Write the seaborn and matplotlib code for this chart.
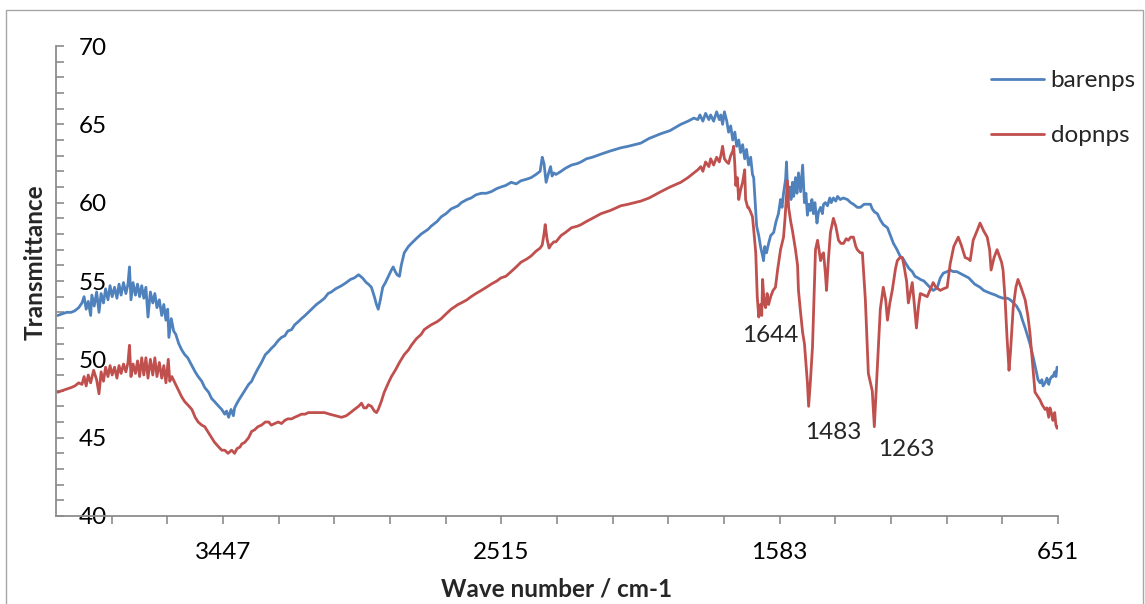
import numpy as np
import pandas as pd
import matplotlib
matplotlib.use("Agg")
import matplotlib.pyplot as plt
from matplotlib.patches import Rectangle
from matplotlib.ticker import FixedLocator, MultipleLocator
import seaborn as sns

# ---------------- data ----------------
bare_wn = [4000, 3986, 3970, 3955, 3943, 3930, 3919, 3912, 3905, 3898, 3890, 3886, 3878, 3870, 3862, 3855,
           3847, 3840, 3832, 3825, 3818, 3810, 3802, 3795, 3788, 3780, 3772, 3765, 3760, 3755, 3748, 3740,
           3733, 3726, 3719, 3712, 3705, 3698, 3690, 3682, 3675, 3668, 3660, 3652, 3645, 3638, 3632, 3628,
           3620, 3612, 3605, 3595, 3585, 3575, 3565, 3551, 3540, 3530, 3518, 3508, 3495, 3485, 3475, 3461,
           3451, 3441, 3435, 3428, 3420, 3412, 3408, 3400, 3394, 3384, 3374, 3361, 3351, 3341, 3330, 3318,
           3305, 3294, 3285, 3274, 3262, 3251, 3240, 3230, 3217, 3207, 3195, 3184, 3172, 3161, 3150, 3134,
           3120, 3107, 3095, 3084, 3070, 3050, 3034, 3020, 3007, 2993, 2980, 2967, 2960, 2950, 2940, 2933,
           2927, 2920, 2912, 2903, 2893, 2883, 2877, 2870, 2864, 2856, 2850, 2840, 2826, 2816, 2800, 2783,
           2760, 2750, 2730, 2716, 2700, 2683, 2660, 2649, 2630, 2616, 2600, 2582, 2565, 2549, 2530, 2516,
           2500, 2482, 2465, 2449, 2430, 2415, 2399, 2385, 2378, 2372, 2365, 2358, 2350, 2345, 2339, 2332,
           2315, 2300, 2280, 2260, 2248, 2230, 2210, 2181, 2150, 2115, 2090, 2048, 2020, 1981, 1950, 1914,
           1890, 1870, 1857, 1850, 1840, 1831, 1820, 1814, 1804, 1794, 1785, 1780, 1774, 1768, 1760, 1754,
           1747, 1740, 1733, 1727, 1720, 1714, 1707, 1700, 1694, 1687, 1680, 1674, 1670, 1665, 1660, 1653,
           1647, 1640, 1637, 1633, 1627, 1620, 1613, 1603, 1595, 1587, 1580, 1575, 1570, 1563, 1560, 1556,
           1550, 1545, 1540, 1536, 1530, 1525, 1520, 1513, 1506, 1500, 1495, 1490, 1485, 1480, 1475, 1470,
           1465, 1458, 1453, 1446, 1440, 1436, 1430, 1423, 1415, 1410, 1403, 1395, 1389, 1380, 1370, 1356,
           1345, 1336, 1323, 1313, 1300, 1290, 1279, 1273, 1265, 1256, 1246, 1236, 1222, 1212, 1202, 1190,
           1180, 1169, 1160, 1150, 1139, 1130, 1120, 1112, 1100, 1090, 1080, 1069, 1060, 1055, 1045, 1035,
           1022, 1012, 1002, 990, 980, 970, 960, 950, 940, 930, 912, 900, 888, 875, 860, 850,
           835, 820, 811, 800, 790, 778, 770, 761, 750, 745, 735, 728, 718, 711, 705, 701,
           694, 688, 682, 678, 672, 668, 662, 658, 654, 651]
bare_t = [52.8, 52.9, 53.0, 53.0, 53.1, 53.3, 53.6, 54.0, 53.2, 53.7, 52.8, 54.1, 53.4, 54.3, 53.0, 54.2,
          53.6, 54.5, 53.8, 54.7, 54.0, 54.6, 53.9, 54.8, 54.1, 54.9, 54.2, 54.8, 55.9, 53.8, 54.9, 54.1,
          54.8, 54.0, 54.7, 53.9, 54.6, 52.7, 54.3, 53.6, 54.2, 53.3, 53.8, 52.8, 53.5, 52.5, 53.2, 51.4,
          52.6, 51.8, 51.6, 51.0, 50.6, 50.3, 50.1, 49.6, 49.2, 48.9, 48.6, 48.2, 47.9, 47.5, 47.3, 47.0,
          46.8, 46.5, 46.7, 46.3, 46.8, 46.4, 46.9, 47.2, 47.4, 47.7, 48.0, 48.4, 48.6, 49.0, 49.4, 49.8,
          50.3, 50.5, 50.7, 50.9, 51.2, 51.4, 51.5, 51.8, 51.9, 52.2, 52.4, 52.6, 52.8, 53.0, 53.2, 53.5,
          53.7, 53.9, 54.2, 54.3, 54.5, 54.7, 54.9, 55.1, 55.2, 55.4, 55.2, 54.9, 54.8, 54.6, 54.0, 53.5,
          53.2, 53.8, 54.6, 54.9, 55.3, 55.7, 55.9, 55.6, 55.4, 55.3, 56.0, 56.8, 57.2, 57.4, 57.7, 58.0,
          58.3, 58.5, 58.8, 59.1, 59.3, 59.6, 59.8, 60.0, 60.2, 60.3, 60.5, 60.6, 60.6, 60.7, 60.9, 61.0,
          61.1, 61.3, 61.2, 61.4, 61.5, 61.6, 61.8, 62.0, 62.9, 62.5, 61.3, 61.8, 62.3, 61.7, 61.9, 61.8,
          62.0, 62.2, 62.4, 62.5, 62.6, 62.8, 62.9, 63.1, 63.3, 63.5, 63.6, 63.8, 64.1, 64.4, 64.6, 65.0,
          65.2, 65.4, 65.3, 65.6, 65.2, 65.7, 65.3, 65.6, 65.2, 65.8, 65.3, 65.6, 65.0, 65.8, 65.2, 64.5,
          64.9, 64.0, 64.5, 63.6, 64.0, 63.2, 63.7, 62.8, 63.4, 62.4, 62.9, 61.8, 61.6, 60.0, 58.5, 57.9,
          57.2, 56.6, 56.3, 57.2, 56.8, 57.4, 57.9, 58.1, 58.8, 59.3, 60.2, 59.7, 60.6, 61.5, 62.6, 60.4,
          61.0, 60.2, 61.3, 60.4, 61.6, 60.6, 61.9, 60.7, 62.4, 60.0, 60.6, 59.2, 59.9, 59.5, 60.2, 59.3,
          60.0, 58.7, 59.4, 59.7, 59.3, 59.9, 60.0, 59.8, 60.3, 60.0, 60.3, 60.1, 60.4, 60.2, 60.3, 60.2,
          60.0, 59.9, 59.7, 59.7, 59.9, 59.9, 59.9, 59.6, 59.4, 59.3, 58.9, 58.6, 58.4, 57.9, 57.4, 57.0,
          56.6, 56.4, 56.1, 55.8, 55.6, 55.3, 55.2, 55.1, 55.0, 54.8, 54.6, 54.4, 54.5, 54.6, 55.2, 55.5,
          55.6, 55.7, 55.6, 55.6, 55.5, 55.4, 55.3, 55.2, 55.0, 54.8, 54.6, 54.4, 54.3, 54.2, 54.1, 54.0,
          53.9, 53.9, 53.8, 53.6, 53.4, 53.0, 52.5, 52.0, 51.3, 51.0, 50.2, 49.6, 48.7, 48.5, 48.7, 48.3,
          48.5, 48.8, 48.4, 48.7, 48.9, 48.9, 49.2, 48.9, 49.5, 49.4]

dop_wn = [4000, 3986, 3970, 3955, 3943, 3930, 3919, 3912, 3905, 3898, 3890, 3880, 3870, 3862, 3855, 3847,
          3840, 3832, 3825, 3818, 3810, 3802, 3795, 3788, 3780, 3772, 3765, 3760, 3755, 3748, 3740, 3733,
          3726, 3719, 3712, 3705, 3698, 3690, 3682, 3675, 3668, 3660, 3652, 3645, 3638, 3630, 3625, 3618,
          3608, 3595, 3585, 3575, 3565, 3551, 3540, 3530, 3518, 3508, 3495, 3485, 3475, 3461, 3451, 3441,
          3430, 3418, 3408, 3400, 3390, 3384, 3374, 3361, 3351, 3341, 3330, 3318, 3305, 3294, 3285, 3274,
          3262, 3251, 3240, 3230, 3217, 3207, 3195, 3184, 3172, 3161, 3140, 3120, 3107, 3090, 3070, 3050,
          3034, 3020, 3007, 2993, 2983, 2975, 2967, 2960, 2950, 2940, 2933, 2927, 2917, 2907, 2893, 2883,
          2870, 2856, 2840, 2826, 2816, 2800, 2783, 2773, 2750, 2730, 2716, 2700, 2683, 2660, 2649, 2630,
          2616, 2600, 2582, 2565, 2549, 2530, 2516, 2500, 2482, 2465, 2449, 2430, 2415, 2399, 2385, 2378,
          2372, 2368, 2362, 2355, 2349, 2339, 2332, 2315, 2300, 2280, 2260, 2248, 2230, 2210, 2181, 2150,
          2115, 2090, 2048, 2020, 1981, 1950, 1914, 1890, 1870, 1857, 1847, 1840, 1831, 1820, 1814, 1804,
          1794, 1785, 1780, 1774, 1768, 1760, 1754, 1747, 1740, 1737, 1733, 1730, 1725, 1720, 1714, 1707,
          1700, 1697, 1690, 1687, 1680, 1674, 1670, 1663, 1658, 1653, 1647, 1643, 1640, 1635, 1630, 1625,
          1620, 1613, 1605, 1597, 1590, 1580, 1570, 1565, 1557, 1553, 1546, 1540, 1530, 1523, 1520, 1513,
          1506, 1500, 1496, 1490, 1486, 1480, 1473, 1468, 1463, 1456, 1450, 1446, 1440, 1436, 1430, 1426,
          1420, 1413, 1403, 1395, 1386, 1378, 1369, 1360, 1353, 1345, 1336, 1328, 1323, 1313, 1306, 1296,
          1286, 1273, 1266, 1256, 1246, 1236, 1228, 1222, 1214, 1206, 1195, 1189, 1180, 1172, 1166, 1158,
          1152, 1145, 1139, 1132, 1125, 1118, 1112, 1100, 1089, 1078, 1069, 1060, 1045, 1035, 1022, 1012,
          1000, 985, 975, 962, 950, 945, 935, 920, 912, 900, 888, 880, 875, 865, 855, 840,
          835, 828, 822, 815, 810, 801, 792, 785, 775, 761, 752, 745, 735, 728, 718, 711,
          704, 694, 688, 682, 678, 672, 668, 662, 658, 654, 651]
dop_t = [47.9, 48.0, 48.1, 48.2, 48.3, 48.5, 48.4, 48.9, 48.3, 49.0, 48.5, 49.3, 48.7, 47.8, 49.2, 48.6,
         49.5, 48.9, 49.6, 49.0, 49.5, 48.8, 49.6, 49.1, 49.7, 49.2, 49.8, 50.9, 48.9, 49.7, 49.1, 49.9,
         48.9, 50.1, 49.0, 50.1, 48.8, 50.0, 49.0, 50.1, 48.9, 49.8, 48.8, 49.6, 48.5, 50.0, 48.6, 48.9,
         48.5, 48.0, 47.6, 47.3, 47.1, 46.8, 46.3, 46.0, 45.8, 45.7, 45.3, 45.0, 44.7, 44.4, 44.2, 44.2,
         44.0, 44.2, 44.0, 44.3, 44.4, 44.6, 44.7, 45.0, 45.4, 45.5, 45.7, 45.8, 46.0, 46.0, 45.8, 45.9,
         46.0, 45.9, 46.1, 46.2, 46.2, 46.3, 46.4, 46.5, 46.5, 46.6, 46.6, 46.6, 46.6, 46.5, 46.4, 46.3,
         46.4, 46.6, 46.8, 47.0, 47.2, 46.9, 46.9, 47.1, 47.0, 46.7, 46.6, 46.8, 47.3, 47.9, 48.5, 48.9,
         49.3, 49.8, 50.3, 50.6, 50.9, 51.3, 51.6, 51.9, 52.2, 52.4, 52.6, 52.9, 53.2, 53.5, 53.6, 53.8,
         54.0, 54.2, 54.4, 54.6, 54.8, 55.0, 55.2, 55.3, 55.6, 55.9, 56.2, 56.4, 56.6, 56.9, 57.1, 57.3,
         58.0, 58.6, 57.7, 57.1, 57.3, 57.5, 57.5, 57.9, 58.1, 58.4, 58.5, 58.6, 58.8, 59.0, 59.3, 59.5,
         59.8, 59.9, 60.1, 60.3, 60.7, 61.0, 61.3, 61.6, 61.9, 62.1, 62.3, 62.0, 62.6, 62.3, 62.8, 62.4,
         62.9, 62.6, 63.0, 63.6, 62.8, 62.6, 62.5, 63.0, 63.3, 63.6, 62.4, 61.1, 61.6, 60.2, 60.8, 61.3,
         62.1, 60.2, 59.7, 59.7, 59.4, 59.1, 58.3, 56.8, 54.0, 52.7, 53.5, 52.8, 55.1, 53.6, 53.3, 54.2,
         53.5, 54.0, 54.4, 54.6, 55.7, 57.0, 57.8, 59.0, 61.4, 59.7, 58.8, 58.2, 57.0, 56.0, 54.4, 53.0,
         51.7, 51.0, 50.0, 48.5, 47.0, 48.6, 50.8, 54.0, 57.0, 57.6, 56.8, 56.3, 56.7, 56.8, 55.5, 54.4,
         56.3, 58.1, 59.0, 58.5, 57.6, 57.4, 57.4, 57.7, 57.6, 57.8, 57.8, 57.2, 57.0, 56.8, 56.8, 53.8,
         49.1, 48.0, 45.7, 49.5, 53.2, 54.6, 53.8, 52.5, 53.6, 54.4, 55.8, 56.3, 56.5, 56.5, 55.9, 55.0,
         53.6, 54.3, 54.9, 53.5, 52.0, 53.4, 54.2, 54.1, 54.0, 54.5, 54.9, 54.6, 54.4, 54.5, 54.6, 56.1,
         57.2, 57.8, 57.3, 56.5, 56.4, 56.3, 57.6, 58.3, 58.7, 58.2, 57.8, 57.0, 55.7, 56.5, 57.0, 56.2,
         55.7, 53.8, 51.5, 49.3, 50.5, 53.3, 54.6, 55.1, 54.6, 53.8, 52.8, 51.7, 49.5, 47.9, 47.6, 47.4,
         47.1, 46.8, 46.9, 46.3, 46.9, 46.5, 46.1, 46.6, 45.8, 45.6, 45.7]

series_names = ["barenps", "dopnps"]
series_colors = ["#4F81BD", "#C0504D"]
x_tick_labels = [3447, 2515, 1583, 651]
peak_labels = ["1644", "1483", "1263"]
peak_pos = [(1613, 51.55), (1403, 45.35), (1159, 44.25)]

# ---------------- figure ----------------
sns.set_theme(style="white")
FONT = ["Lato", "DejaVu Sans"]
plt.rcParams["font.family"] = FONT
FS = 17.5

W, H = 1145, 604
fig = plt.figure(figsize=(W / 100, H / 100), dpi=100)
ax_l, ax_r, ax_t, ax_b = 56, 1058, 46, 516
ax = fig.add_axes([ax_l / W, 1 - ax_b / H, (ax_r - ax_l) / W, (ax_b - ax_t) / H])

df = pd.concat([
    pd.DataFrame({"wn": bare_wn, "T": bare_t, "series": series_names[0]}),
    pd.DataFrame({"wn": dop_wn, "T": dop_t, "series": series_names[1]}),
])
sns.lineplot(data=df, x="wn", y="T", hue="series", palette=series_colors,
             estimator=None, sort=False, linewidth=2.0, ax=ax)

ax.set_xlim(4006, 651)
ax.set_ylim(40, 70)

# x ticks: label every 5th tick
step = (2515 - 651) / 10.0
minor = [651 + k * step for k in range(19)]
ax.xaxis.set_major_locator(FixedLocator(x_tick_labels))
ax.xaxis.set_minor_locator(FixedLocator(minor))
ax.set_xticklabels([str(v) for v in x_tick_labels])
gray = "#8C8C8C"
ax.tick_params(axis="x", which="both", direction="out", length=6, width=1.2,
               color=gray, bottom=True, labelsize=FS, pad=13, labelcolor="black")

ax.yaxis.set_major_locator(MultipleLocator(5))
ax.yaxis.set_minor_locator(MultipleLocator(1))
ax.tick_params(axis="y", which="both", direction="in", length=6, width=1.2,
               color=gray, left=True, labelsize=FS, pad=-36.5, labelcolor="black")
for lab in ax.get_yticklabels():
    lab.set_horizontalalignment("right")

for s in ["top", "right"]:
    ax.spines[s].set_visible(False)
for s in ["left", "bottom"]:
    ax.spines[s].set_color(gray)
    ax.spines[s].set_linewidth(1.3)

ax.set_xlabel("")
ax.set_ylabel("")
fig.text(557 / W, 1 - 589 / H, "Wave number / cm-1", ha="center", va="center",
         fontsize=FS, fontweight="bold")
fig.text(35 / W, 1 - 262 / H, "Transmittance", ha="center", va="center",
         rotation=90, fontsize=FS, fontweight="bold")

for lab, (px, py) in zip(peak_labels, peak_pos):
    ax.text(px, py, lab, ha="center", va="center", fontsize=FS)

ax.legend(loc="upper left", bbox_to_anchor=(991 / W, 1 - 70 / H),
          bbox_transform=fig.transFigure, frameon=False, fontsize=FS,
          handlelength=2.2, handletextpad=0.25, labelspacing=1.4,
          borderpad=0, borderaxespad=0)

fig.patches.append(Rectangle((6 / W, -0.01), (1143 - 6) / W, (1 - 10 / H) + 0.01,
                             transform=fig.transFigure, fill=False,
                             edgecolor="#A6A6A6", linewidth=1.0))

fig.savefig("out.png", dpi=100)
